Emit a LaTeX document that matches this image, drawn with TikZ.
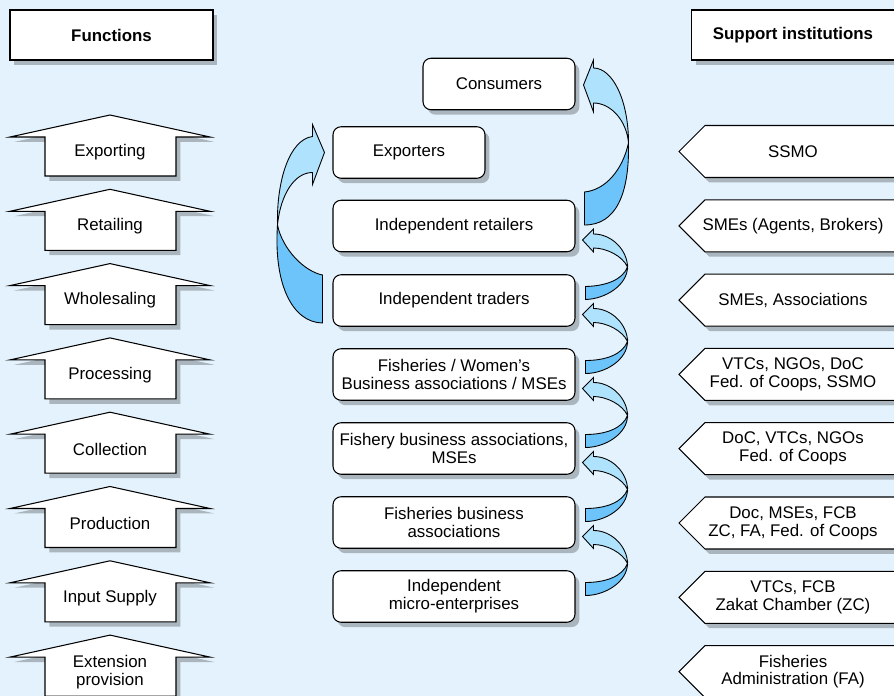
\documentclass[tikz,border=0pt]{standalone}
\usepackage{fontspec}
\setmainfont{Liberation Sans}
\usetikzlibrary{calc, shadows}
\definecolor{bgblue}{RGB}{227,242,253}
\definecolor{flowlight}{RGB}{175,226,252}
\definecolor{flowdark}{RGB}{108,196,250}

\begin{document}
\begin{tikzpicture}[x=0.02cm, y=-0.02cm,
  every node/.style={font=\fontsize{9.6}{10.2}\selectfont, align=center},
  shadowed/.style={drop shadow={shadow xshift=2.5pt, shadow yshift=-2.8pt, opacity=0.25, fill=black}},
  header/.style={draw, fill=white, line width=0.6pt, shadowed, minimum width=4.06cm, minimum height=1cm, font=\fontsize{9.6}{10.2}\selectfont\bfseries},
  actor/.style={draw, fill=white, line width=0.6pt, shadowed, rounded corners=0.16cm, minimum height=1.03cm},
  tagshape/.style={draw, fill=white, line width=0.6pt, shadowed},
  flowup/.style={draw, fill=flowlight, line width=0.5pt},
  flowdown/.style={draw, fill=flowdark, line width=0.5pt}]
\useasboundingbox (0,0) rectangle (894,696);
\clip (0,0) rectangle (894,696);
\fill[bgblue] (0,0) rectangle (894,696);

\node[header] (fun) at (111.5,35) {Functions};
\node[header] (sup) at (793,35) {Support institutions};

\foreach \txt [count=\i from 0] in {Exporting, Retailing, Wholesaling, Processing, Collection, Production, Input Supply, {Extension\\provision}}{
  \pgfmathsetmacro{\yc}{152+74.3*\i}
  \draw[tagshape] (110,\yc-37) -- (210,\yc-15) -- (176,\yc-15) -- (176,\yc+24) -- (45,\yc+24) -- (45,\yc-15) -- (10,\yc-15) -- cycle;
  \node (fn\i) at (110,\yc) {\txt};
}

\foreach \txt [count=\i from 0] in {SSMO, {SMEs (Agents, Brokers)}, {SMEs, Associations}, {VTCs, NGOs, DoC\\Fed. of Coops, SSMO}, {DoC, VTCs, NGOs\\Fed. of Coops}, {Doc, MSEs, FCB\\ZC, FA, Fed. of Coops}, {VTCs, FCB\\Zakat Chamber (ZC)}, {Fisheries\\Administration (FA)}}{
  \pgfmathsetmacro{\yc}{151.5+74.3*\i}
  \draw[tagshape] (679,\yc) -- (705,\yc-26) -- (900,\yc-26) -- (900,\yc+26) -- (705,\yc+26) -- cycle;
  \node (si\i) at (793,\yc) {\txt};
}

\node[actor, minimum width=3.04cm] (cons) at (499,84) {Consumers};
\node[actor, minimum width=3.04cm] (expo) at (409,152.5) {Exporters};
\node[actor, minimum width=4.84cm] (reta) at (454,226) {Independent retailers};
\node[actor, minimum width=4.84cm] (trad) at (454,300.5) {Independent traders};
\node[actor, minimum width=4.84cm] (wbas) at (454,374.5) {Fisheries / Women’s\\Business associations / MSEs};
\node[actor, minimum width=4.84cm] (fbas) at (454,448.5) {Fishery business associations,\\MSEs};
\node[actor, minimum width=4.84cm] (fiba) at (454,522.5) {Fisheries business\\associations};
\node[actor, minimum width=4.84cm] (imes) at (454,596.5) {Independent\\micro-enterprises};

% small loops up the chain
\foreach \u/\l in {reta/trad, trad/wbas, wbas/fbas, fbas/fiba, fiba/imes}{
  \draw[flowup] ($(\u.east)+(7,14)$) -- ($(\u.east)+(18,3)$) -- ($(\u.east)+(18,8)$)
    .. controls ($(\u.east)+(37,8)$) and ($(\u.east)+(52,25)$) .. ($(\u.east)+(52,41)$)
    .. controls ($(\u.east)+(47,30)$) and ($(\u.east)+(31,22)$) .. ($(\u.east)+(18,22)$)
    -- ($(\u.east)+(18,26)$) -- cycle;
  \draw[flowdown] ($(\u.east)+(52,41)$)
    .. controls ($(\u.east)+(52,59)$) and ($(\u.east)+(30,73)$) .. ($(\l.east)+(10,-1)$)
    -- ($(\l.east)+(10,-14)$)
    .. controls ($(\u.east)+(30,60)$) and ($(\u.east)+(47,54)$) .. ($(\u.east)+(52,41)$) -- cycle;
}

% retailers to consumers
\draw[flowup] ($(cons.east)+(8,1)$) -- ($(cons.east)+(18,-24)$) -- ($(cons.east)+(18,-16)$)
  .. controls ($(cons.east)+(37,-16)$) and ($(cons.east)+(53,16)$) .. ($(cons.east)+(53,59)$)
  .. controls ($(cons.east)+(51,36)$) and ($(cons.east)+(35,19)$) .. ($(cons.east)+(18,19)$)
  -- ($(cons.east)+(18,28)$) -- cycle;
\draw[flowdown] ($(cons.east)+(53,59)$)
  .. controls ($(cons.east)+(54,111)$) and ($(cons.east)+(40,141)$) .. ($(reta.east)+(9,-1)$)
  -- ($(reta.east)+(9,-34)$)
  .. controls ($(cons.east)+(30,106)$) and ($(cons.east)+(47,86)$) .. ($(cons.east)+(53,59)$) -- cycle;

% traders to exporters
\draw[flowup] ($(expo.west)+(-8,0)$) -- ($(expo.west)+(-20,-28)$) -- ($(expo.west)+(-20,-16)$)
  .. controls ($(expo.west)+(-43,-13)$) and ($(expo.west)+(-56,28)$) .. ($(expo.west)+(-55,72.5)$)
  .. controls ($(expo.west)+(-52,42)$) and ($(expo.west)+(-38,20)$) .. ($(expo.west)+(-20,20)$)
  -- ($(expo.west)+(-20,32)$) -- cycle;
\draw[flowdown] ($(expo.west)+(-55,72.5)$)
  .. controls ($(expo.west)+(-59,132)$) and ($(expo.west)+(-40,170)$) .. ($(trad.west)+(-10,22.5)$)
  -- ($(trad.west)+(-10,-25.5)$)
  .. controls ($(expo.west)+(-28,119)$) and ($(expo.west)+(-50,97)$) .. ($(expo.west)+(-55,72.5)$) -- cycle;
\end{tikzpicture}
\end{document}
